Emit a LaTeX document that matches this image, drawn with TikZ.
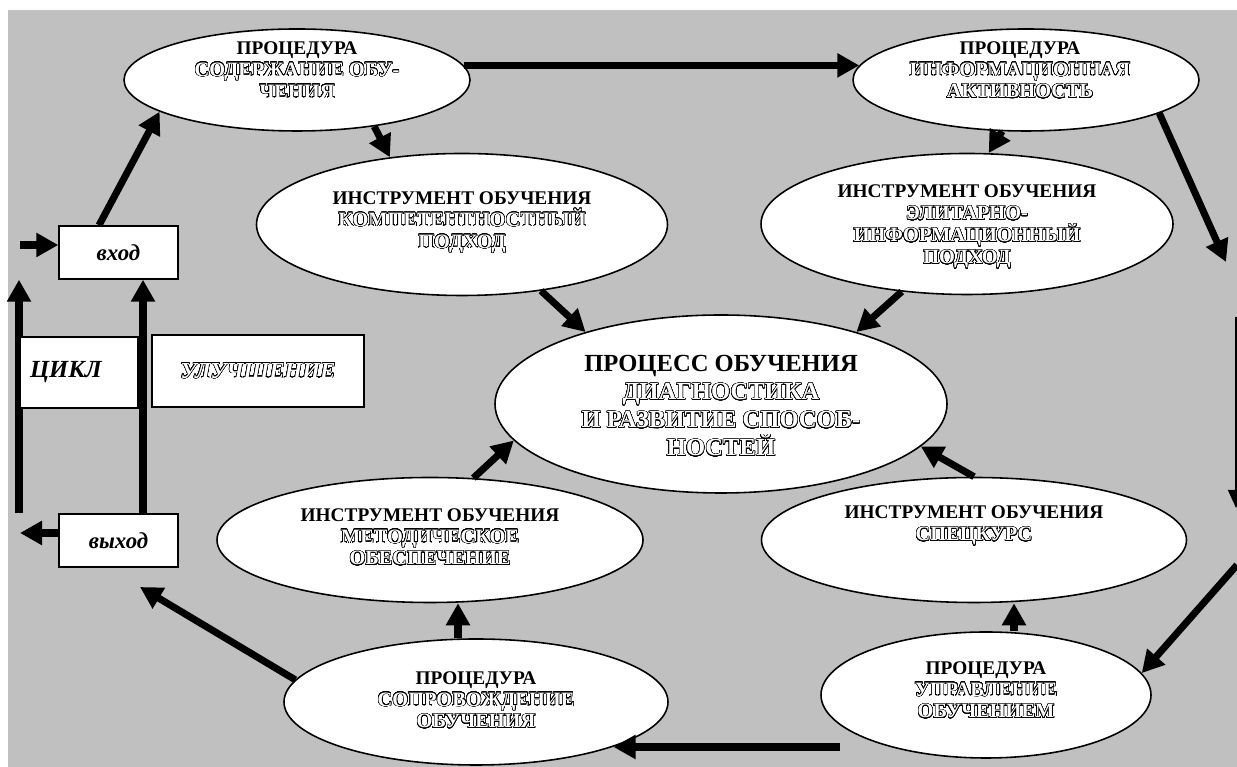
\documentclass[tikz,border=0pt]{standalone}
\usepackage{fontspec}
\setmainfont{Liberation Serif}
\usepackage{contour}
\contourlength{0.3pt}
\contournumber{32}
\usetikzlibrary{shapes.geometric,arrows.meta}
\definecolor{bg}{RGB}{192,192,192}
\newcommand{\hol}[2][11.6]{{\fontsize{#1}{12.5}\selectfont\color{white}\contour{black}{#2}}}

\begin{document}
\begin{tikzpicture}
    \tikzset{
        proc/.style={draw, ellipse, fill=white, line width=0.9pt, inner sep=0pt, minimum width=6.92cm, minimum height=2.04cm},
        tool/.style={draw, ellipse, fill=white, line width=0.9pt, inner sep=0pt},
        txt/.style={align=center, font=\fontsize{11}{12.5}\selectfont\bfseries},
        box/.style={draw, rectangle, fill=white, line width=0.8pt, inner sep=0pt, font=\fontsize{13}{15}\selectfont\bfseries\itshape},
        arc/.style={-{Triangle[length=0.44cm,width=0.46cm]}, line width=4pt},
        thinarc/.style={-{Triangle[length=0.36cm,width=0.32cm]}, line width=0.8pt}
    }

    \useasboundingbox (0,0) rectangle (24.74,15.34);
    \fill[bg] (0.16,0) rectangle (24.74,15.14);

    % procedures and tools
    \draw node[proc] (A) at (5.94,13.74) {};
    \draw node[proc] (B) at (20.52,13.74) {};
    \draw node[tool, minimum width=8.22cm, minimum height=2.84cm] (C) at (9.24,10.85) {};
    \draw node[tool, minimum width=8.24cm, minimum height=2.82cm] (D) at (19.34,10.86) {};
    \draw node[tool, minimum width=9.04cm, minimum height=3.56cm] (G) at (14.42,7.26) {};
    \draw node[tool, minimum width=8.52cm, minimum height=2.5cm] (E) at (8.60,4.54) {};
    \draw node[tool, minimum width=8.5cm, minimum height=2.5cm] (F) at (19.48,4.54) {};
    \draw node[tool, minimum width=7.68cm, minimum height=2.52cm] (H) at (9.52,1.30) {};
    \draw node[tool, minimum width=6.6cm, minimum height=2.52cm] (I) at (19.72,1.44) {};

    \node[txt] (At) at ([yshift=0.2cm]A) {ПРОЦЕДУРА\\\hol{СОДЕРЖАНИЕ ОБУ-}\\\hol{ЧЕНИЯ}};
    \node[txt] (Bt) at ([xshift=-0.12cm,yshift=0.2cm]B) {ПРОЦЕДУРА\\\hol{ИНФОРМАЦИОННАЯ}\\\hol{АКТИВНОСТЬ}};
    \node[txt] (Ct) at ([yshift=0.04cm]C) {ИНСТРУМЕНТ ОБУЧЕНИЯ\\\hol{КОМПЕТЕНТНОСТНЫЙ}\\\hol{ПОДХОД}};
    \node[txt] (Dt) at ([yshift=-0.06cm]D) {ИНСТРУМЕНТ ОБУЧЕНИЯ\\\hol{ЭЛИТАРНО-}\\\hol{ИНФОРМАЦИОННЫЙ}\\\hol{ПОДХОД}};
    \node[txt, font=\fontsize{14}{16}\selectfont\bfseries] (Gt) at ([yshift=-0.04cm]G) {ПРОЦЕСС ОБУЧЕНИЯ\\\hol[14]{ДИАГНОСТИКА}\\\hol[14]{И РАЗВИТИЕ СПОСОБ-}\\\hol[14]{НОСТЕЙ}};
    \node[txt] (Et) at ([yshift=0.06cm]E) {ИНСТРУМЕНТ ОБУЧЕНИЯ\\\hol{МЕТОДИЧЕСКОЕ}\\\hol{ОБЕСПЕЧЕНИЕ}};
    \node[txt] (Ft) at ([yshift=0.28cm]F) {ИНСТРУМЕНТ ОБУЧЕНИЯ\\\hol{СПЕЦКУРС}};
    \node[txt] (Ht) at ([yshift=0.04cm]H) {ПРОЦЕДУРА\\\hol{СОПРОВОЖДЕНИЕ}\\\hol{ОБУЧЕНИЯ}};
    \node[txt] (It) at ([yshift=0.1cm]I) {ПРОЦЕДУРА\\\hol{УПРАВЛЕНИЕ}\\\hol{ОБУЧЕНИЕМ}};

    % input and output
    \draw node[box, minimum width=2.38cm, minimum height=1.06cm] (vhod) at (2.37,10.29) {вход};
    \draw node[box, minimum width=2.38cm, minimum height=1.06cm] (vyhod) at (2.37,4.53) {выход};

    \coordinate (cl) at (0.38,7);
    \coordinate (inp) at (0.40,10.44);
    \coordinate (out) at (0.40,4.68);
    \coordinate (ret) at (2.80,3.60);
    \coordinate (r1) at (24.52,10.10);
    \coordinate (r2) at (24.72,9.00);
    \coordinate (r3) at (24.72,5.18);
    \coordinate (r4) at (24.74,4.04);
    \coordinate (i1) at (16.80,0.40);
    \coordinate (h1) at ([xshift=-0.36cm]H.north);
    \coordinate (f1) at ([xshift=0.56cm]I.north);
    \coordinate (c2) at ([xshift=0.49cm]vyhod.north);

    \foreach \x/\y in {%
        A.5/B.175, A.-31/C.137, B.-115/D.73, C.-40/G.152, D.-134/G.28, E.55/G.190, F.north/G.-12%
    }{
        \draw (\x) edge[arc] (\y);
    }
    \draw[arc] (B.-14) -- (r1);
    \draw[thinarc] (r2) -- (r3);
    \draw[arc] (r4) -- (I.8);
    \draw[arc] (i1) -- (H.-18 |- i1);
    \draw[arc] (h1) -- (h1 |- E.south);
    \draw[arc] (f1) -- (f1 |- F.south);
    \draw[arc] (H.173) -- (ret);
    \draw[arc] ([xshift=-0.39cm]vhod.north) -- (A.193);
    \draw[arc] (inp) -- (inp -| vhod.west);
    \draw[arc] (vyhod.west |- out) -- (out);
    \draw[arc] (cl |- vyhod.north) -- (cl |- vhod.south);
    \draw[arc] (c2) -- (c2 |- vhod.south);

    % loop labels
    \draw node[box, minimum width=2.36cm, minimum height=1.42cm, text width=1.96cm, align=left, inner xsep=0.2cm, font=\fontsize{14}{16}\selectfont\bfseries\itshape] (cikl) at (1.58,7.89) {ЦИКЛ};
    \draw node[box, minimum width=4.24cm, minimum height=1.44cm] (uluch) at (5.16,7.92) {\hol[13]{УЛУЧШЕНИЕ}};
\end{tikzpicture}
\end{document}
